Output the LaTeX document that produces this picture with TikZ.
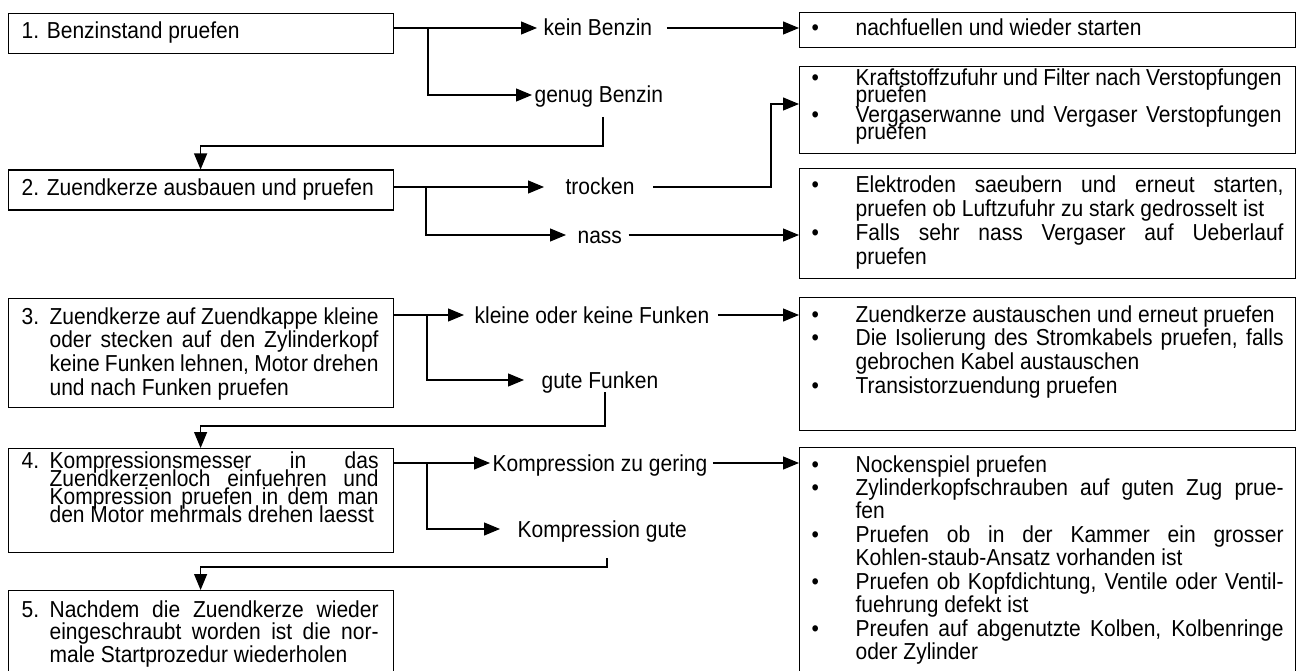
\documentclass[tikz,border=0pt]{standalone}
\usepackage{fontspec}
\usepackage{graphicx}
\setmainfont{Liberation Sans}
\usetikzlibrary{arrows.meta}
\newcommand\xS[1]{\scalebox{1}[1.1]{#1}}
\newcommand\xBul[1]{\hbox{\hbox to 44pt{•\hfil}#1}}
\newcommand\xCon[1]{\hbox{\hskip44pt #1}}
\newcommand\xNum[2]{\hbox{\hbox to 28pt{#1\hfil}#2}}
\newcommand\xHang[1]{\hbox{\hskip28pt #1}}
\newcommand\xJr[1]{\hbox to 428pt{#1}}
\newcommand\xJl[1]{\hbox to 329pt{#1}}
\newcommand\xTxt[2]{\scalebox{1}[1.1]{\vtop{\baselineskip=#1pt\lineskiplimit=-100pt\lineskip=0pt #2}}}
\tikzset{
  box/.style={draw, rectangle, inner sep=0pt, anchor=north west},
  lbl/.style={inner sep=0pt, text height=16pt, text depth=0pt, anchor=west},
  txt/.style={inner sep=0pt, anchor=base west},
  arr/.style={-{Triangle[length=16pt,width=13pt]}},
}
\begin{document}
\begin{tikzpicture}[x=1pt,y=-1pt,line width=1.2pt,
  every node/.style={font=\fontsize{21pt}{24pt}\selectfont}]
\useasboundingbox (0,0) rectangle (1303,671);
% left boxes
\node[box, minimum width=385pt, minimum height=40pt] (B1) at (7.5,13) {};
\node[box, minimum width=385pt, minimum height=40pt] (B2) at (7.5,169.5) {};
\node[box, minimum width=385pt, minimum height=109pt] (B3) at (7.5,298) {};
\node[box, minimum width=385pt, minimum height=104pt] (B4) at (7.5,448) {};
\node[box, minimum width=385pt, minimum height=85pt] (B5) at (7.5,590) {};
% right boxes
\node[box, minimum width=496pt, minimum height=35pt] (R1) at (799,12) {};
\node[box, minimum width=496pt, minimum height=87pt] (R2) at (799,66) {};
\node[box, minimum width=496pt, minimum height=110pt] (R3) at (799,168) {};
\node[box, minimum width=496pt, minimum height=133pt] (R4) at (799,297) {};
\node[box, minimum width=496pt, minimum height=228pt] (R5) at (799,447) {};
% left texts
\node[txt] (T1) at (21,39) {\xS{1. Benzinstand pruefen}};
\node[txt] (T2) at (21,196) {\xS{2. Zuendkerze ausbauen und pruefen}};
\node[txt] (T3) at (21,324) {\xTxt{21.55}{%
  \xNum{3.}{\xJl{Zuendkerze auf Zuendkappe kleine}}
  \xHang{\xJl{oder stecken auf den Zylinderkopf}}
  \xHang{\xJl{keine Funken lehnen, Motor drehen}}
  \xHang{und nach Funken pruefen}}};
\node[txt] (T4) at (21,468) {\xTxt{16.64}{%
  \xNum{4.}{\xJl{Kompressionsmesser in das}}
  \xHang{\xJl{Zuendkerzenloch einfuehren und}}
  \xHang{\xJl{Kompression pruefen in dem man}}
  \xHang{den Motor mehrmals drehen laesst}}};
\node[txt] (T5) at (21,617) {\xTxt{20.9}{%
  \xNum{5.}{\xJl{Nachdem die Zuendkerze wieder}}
  \xHang{\xJl{eingeschraubt worden ist die nor-}}
  \xHang{male Startprozedur wiederholen}}};
% right texts
\node[txt] (S1) at (811,36) {\xS{\xBul{nachfuellen und wieder starten}}};
\node[txt] (S2) at (811,86) {\xTxt{15.45}{%
  \xBul{\hbox to 426pt{Kraftstoffzufuhr und Filter nach Verstopfungen}}
  \xCon{pruefen}
  \vskip2.7pt
  \xBul{\hbox to 426pt{Vergaserwanne und Vergaser Verstopfungen}}
  \xCon{pruefen}}};
\node[txt] (S3) at (811,193) {\xTxt{21.8}{%
  \xBul{\xJr{Elektroden saeubern und erneut starten,}}
  \xCon{pruefen ob Luftzufuhr zu stark gedrosselt ist}
  \xBul{\xJr{Falls sehr nass Vergaser auf Ueberlauf}}
  \xCon{pruefen}}};
\node[txt] (S4) at (811,322) {\xTxt{21.55}{%
  \xBul{Zuendkerze austauschen und erneut pruefen}
  \xBul{\xJr{Die Isolierung des Stromkabels pruefen, falls}}
  \xCon{gebrochen Kabel austauschen}
  \xBul{Transistorzuendung pruefen}}};
\node[txt] (S5) at (811,472) {\xTxt{21.36}{%
  \xBul{Nockenspiel pruefen}
  \xBul{\xJr{Zylinderkopfschrauben auf guten Zug prue-}}
  \xCon{fen}
  \xBul{\xJr{Pruefen ob in der Kammer ein grosser}}
  \xCon{Kohlen-staub-Ansatz vorhanden ist}
  \xBul{\xJr{Pruefen ob Kopfdichtung, Ventile oder Ventil-}}
  \xCon{fuehrung defekt ist}
  \xBul{\xJr{Preufen auf abgenutzte Kolben, Kolbenringe}}
  \xCon{oder Zylinder}}};
% labels
\node[lbl] (kein) at (543,28) {\xS{kein Benzin}};
\node[lbl] (genug) at (534,95) {\xS{genug Benzin}};
\node[lbl] (trocken) at (565,187) {\xS{trocken}};
\node[lbl] (nass) at (577,235) {\xS{nass}};
\node[lbl] (kleine) at (474,315) {\xS{kleine oder keine Funken}};
\node[lbl] (gute) at (541,380) {\xS{gute Funken}};
\node[lbl] (zu) at (492,463) {\xS{Kompression zu gering}};
\node[lbl] (kg) at (517,529) {\xS{Kompression gute}};
% junctions and turning points
\coordinate (j1) at (428,28);
\coordinate (j2) at (426,187);
\coordinate (j3) at (427,315);
\coordinate (j4) at (427,463);
\coordinate (k1) at (771,104);
\coordinate (g1) at (603,117);
\coordinate (g2) at (605,392);
\coordinate (g3) at (607,558);
% step 1
\draw[arr] (B1.east |- kein.west) -- ([xshift=-6pt]kein.west);
\draw[arr] (j1) |- ([xshift=-2pt]genug.west);
\draw[arr] ([xshift=14pt]kein.east) -- (kein.east -| R1.west);
\draw[arr] (g1) -- ++(0,29) -| (B2.north);
% step 2
\draw[arr] (B2.east |- trocken.west) -- ([xshift=-21pt]trocken.west);
\draw[arr] (j2) |- ([xshift=-11pt]nass.west);
\draw[arr] ([xshift=18pt]trocken.east) -| (k1) -- (k1 -| R2.west);
\draw[arr] ([xshift=6pt]nass.east) -- (nass.east -| R3.west);
% step 3
\draw[arr] (B3.east |- kleine.west) -- ([xshift=-10pt]kleine.west);
\draw[arr] (j3) |- ([xshift=-17pt]gute.west);
\draw[arr] ([xshift=8pt]kleine.east) -- (kleine.east -| R4.west);
\draw[arr] (g2) -- ++(0,34) -| (B4.north);
% step 4
\draw[arr] (B4.east |- zu.west) -- ([xshift=-2pt]zu.west);
\draw[arr] (j4) |- ([xshift=-17pt]kg.west);
\draw[arr] ([xshift=5pt]zu.east) -- (zu.east -| R5.west);
\draw[arr] (g3) -- ++(0,9) -| (B5.north);
\end{tikzpicture}
\end{document}
